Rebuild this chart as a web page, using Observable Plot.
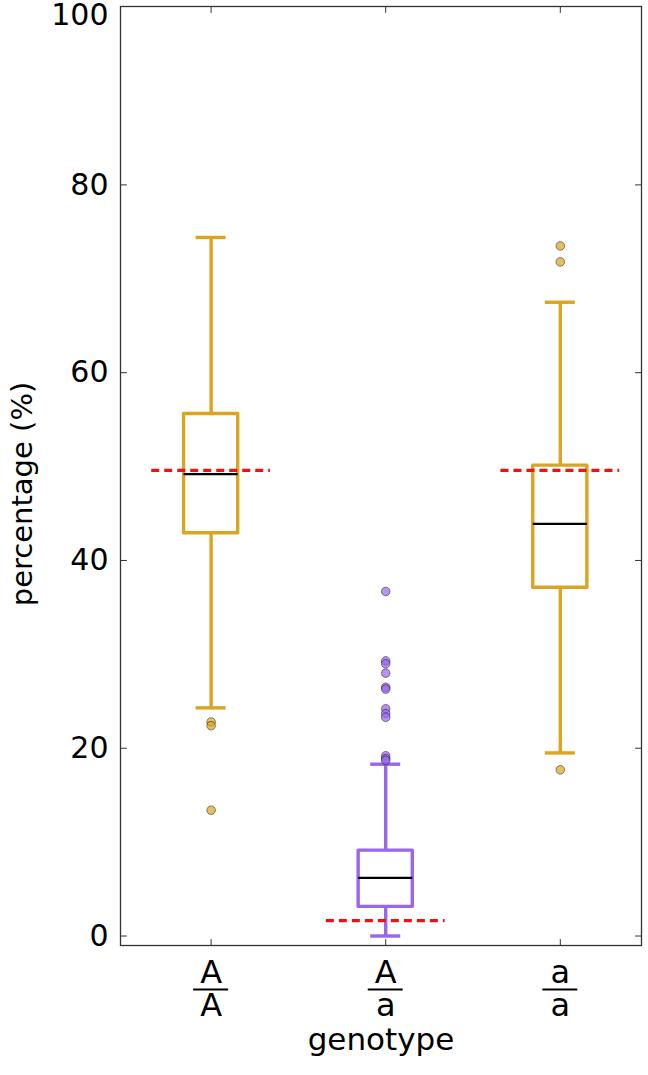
<!DOCTYPE html>
<html><head><meta charset="utf-8">
<script src="https://cdn.jsdelivr.net/npm/d3@7"></script>
<script src="https://cdn.jsdelivr.net/npm/@observablehq/plot@0.6"></script>
<style>body{margin:0;background:#fff;}</style>
</head><body><div id="chart"></div>
<script>
// ---- data ----
const genotypes = ["AA", "Aa", "aa"];
const numerators = ["A", "A", "a"];
const denominators = ["A", "a", "a"];
const boxColors = ["#daa520", "#9966ee", "#daa520"];
const whiskerLow = [24.3, 0.0, 19.5];
const q1 = [42.9, 3.1, 37.1];
const median = [49.2, 6.2, 43.9];
const q3 = [55.6, 9.1, 50.1];
const whiskerHigh = [74.4, 18.3, 67.5];
const expected = [49.6, 1.65, 49.6];
const outliersAA = [22.8, 22.4, 13.4];
const outliersAa = [36.7, 29.3, 29.0, 28.0, 26.5, 26.3, 24.2, 23.7, 23.3, 19.2, 18.9, 18.7];
const outliersaa = [73.5, 71.8, 17.7];
const yTicks = [0, 20, 40, 60, 80];
const yTopLabel = [100];
const xLabel = "genotype";
const yLabel = "percentage (%)";

// ---- layout / style ----
const xDomain = [0.481, 3.465];
const yDomain = [-1.01, 99.0];
const boxHalf = 0.155, capHalf = 0.086, expHalf = 0.34, fracHalf = 0.1;
const FS = 30;
const LW = 3.4;

const boxes = genotypes.map((g, i) => ({
  g, x: i + 1, color: boxColors[i],
  lo: whiskerLow[i], q1: q1[i], med: median[i], q3: q3[i], hi: whiskerHigh[i],
  exp: expected[i], num: numerators[i], den: denominators[i]
}));
const outliers = [outliersAA, outliersAa, outliersaa].flatMap((arr, i) =>
  arr.map(v => ({x: i + 1, v, color: boxColors[i]})));

const tickShape = {draw(context, l) { context.moveTo(0, 0); context.lineTo(0, -l); }};
const xTickVals = boxes.map(d => d.x);

const chart = Plot.plot({
  width: 648, height: 1075,
  marginLeft: 120, marginRight: 7, marginTop: 6, marginBottom: 130,
  style: {fontFamily: "DejaVu Sans", fontSize: FS + "px", background: "white", overflow: "visible"},
  x: {type: "linear", domain: xDomain, axis: null},
  y: {domain: yDomain},
  marks: [
    // whiskers
    Plot.ruleX(boxes, {x: "x", y1: "lo", y2: "q1", stroke: "color", strokeWidth: LW}),
    Plot.ruleX(boxes, {x: "x", y1: "q3", y2: "hi", stroke: "color", strokeWidth: LW}),
    Plot.ruleY(boxes, {y: "lo", x1: d => d.x - capHalf, x2: d => d.x + capHalf, stroke: "color", strokeWidth: LW}),
    Plot.ruleY(boxes, {y: "hi", x1: d => d.x - capHalf, x2: d => d.x + capHalf, stroke: "color", strokeWidth: LW}),
    // box
    Plot.rect(boxes, {x1: d => d.x - boxHalf, x2: d => d.x + boxHalf, y1: "q1", y2: "q3", fill: "none", stroke: "color", strokeWidth: LW, strokeLinejoin: "round"}),
    // expected
    Plot.ruleY(boxes, {y: "exp", x1: d => d.x - expHalf, x2: d => d.x + expHalf, stroke: "#ee1111", strokeWidth: 3.2, strokeDasharray: "8,5"}),
    // median
    Plot.ruleY(boxes, {y: "med", x1: d => d.x - boxHalf, x2: d => d.x + boxHalf, stroke: "black", strokeWidth: 2.2}),
    // outliers
    Plot.dot(outliers, {x: "x", y: "v", r: 4.3, fill: "color", fillOpacity: 0.7, stroke: "black", strokeOpacity: 0.45, strokeWidth: 1}),
    // frame
    Plot.frame({stroke: "#333", strokeWidth: 1.3}),
    // inward ticks
    Plot.vector(yTicks, {x: () => xDomain[0], y: d => d, length: 6, rotate: 90, anchor: "start", shape: tickShape, stroke: "#333", strokeWidth: 1}),
    Plot.vector(yTicks, {x: () => xDomain[1], y: d => d, length: 6, rotate: -90, anchor: "start", shape: tickShape, stroke: "#333", strokeWidth: 1}),
    Plot.vector(xTickVals, {x: d => d, y: () => yDomain[0], length: 6, rotate: 0, anchor: "start", shape: tickShape, stroke: "#333", strokeWidth: 1}),
    Plot.vector(xTickVals, {x: d => d, y: () => yDomain[1], length: 6, rotate: 180, anchor: "start", shape: tickShape, stroke: "#333", strokeWidth: 1}),
    // y tick labels
    Plot.axisY(yTicks, {anchor: "left", tickSize: 0, tickPadding: 12, fontSize: FS, label: null, fill: "black"}),
    Plot.text(yTopLabel, {text: d => String(d), frameAnchor: "top-left", dx: -12, dy: 9, textAnchor: "end", lineAnchor: "middle", fontSize: FS, fill: "black"}),
    // x tick labels as fractions
    Plot.text(boxes, {x: "x", text: "num", frameAnchor: "bottom", lineAnchor: "middle", dy: 27, fontSize: 32, fill: "black"}),
    Plot.ruleY(boxes, {y: () => yDomain[0], x1: d => d.x - fracHalf, x2: d => d.x + fracHalf, dy: 44, stroke: "black", strokeWidth: 2}),
    Plot.text(boxes, {x: "x", text: "den", frameAnchor: "bottom", lineAnchor: "middle", dy: 60, fontSize: 32, fill: "black"}),
    // axis labels
    Plot.text([xLabel], {text: d => d, frameAnchor: "bottom", lineAnchor: "middle", dy: 95, fontSize: 31, fill: "black"}),
    Plot.text([yLabel], {text: d => d, frameAnchor: "left", textAnchor: "middle", lineAnchor: "middle", dx: -98, dy: 18, rotate: -90, fontSize: 29, fill: "black"})
  ]
});
document.getElementById("chart").appendChild(chart);
</script>
</body></html>
